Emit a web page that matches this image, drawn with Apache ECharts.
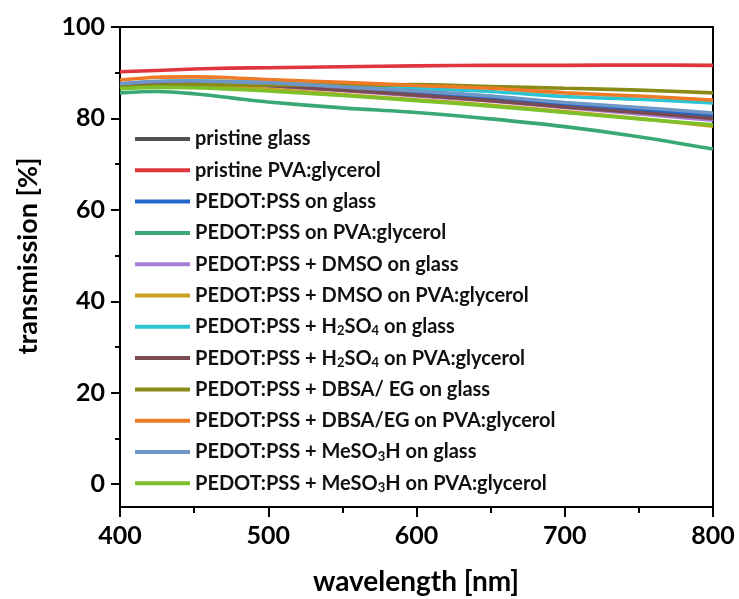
<!DOCTYPE html>
<html>
<head>
<meta charset="utf-8">
<script src="https://cdn.jsdelivr.net/npm/echarts@6/dist/echarts.min.js"></script>
<style>html,body{margin:0;padding:0;background:#fff;}#chart{width:739px;height:599px;}</style>
</head>
<body>
<div id="chart"></div>
<script>
// wavelength sampling points [nm]
var wavelengths = [400, 425, 450, 475, 500, 550, 600, 650, 700, 750, 800];

var seriesNames = [
  'pristine glass',
  'pristine PVA:glycerol',
  'PEDOT:PSS on glass',
  'PEDOT:PSS on PVA:glycerol',
  'PEDOT:PSS + DMSO on glass',
  'PEDOT:PSS + DMSO on PVA:glycerol',
  'PEDOT:PSS + H2SO4 on glass',
  'PEDOT:PSS + H2SO4 on PVA:glycerol',
  'PEDOT:PSS + DBSA/ EG on glass',
  'PEDOT:PSS + DBSA/EG on PVA:glycerol',
  'PEDOT:PSS + MeSO3H on glass',
  'PEDOT:PSS + MeSO3H on PVA:glycerol'
];

// transmission [%]
var pristineGlass      = [87.4, 88.0, 88.1, 87.9, 87.6, 86.8, 85.9, 84.8, 83.3, 82.1, 80.9];
var pristinePVA        = [90.2, 90.5, 90.8, 91.0, 91.1, 91.3, 91.5, 91.6, 91.6, 91.7, 91.6];
var pedotGlass         = [87.2, 87.8, 88.0, 87.8, 87.5, 86.6, 85.6, 84.5, 83.0, 81.8, 80.4];
var pedotPVA           = [85.6, 85.9, 85.4, 84.5, 83.6, 82.3, 81.3, 79.9, 78.2, 76.0, 73.3];
var dmsoGlass          = [86.9, 87.5, 87.6, 87.4, 87.1, 86.1, 84.9, 83.8, 82.4, 81.0, 79.6];
var dmsoPVA            = [86.6, 87.1, 87.1, 86.8, 86.4, 85.2, 84.1, 82.9, 81.5, 80.0, 78.3];
var h2so4Glass         = [87.5, 88.0, 88.2, 88.1, 87.9, 87.3, 86.6, 85.9, 84.8, 84.2, 83.4];
var h2so4PVA           = [87.0, 87.6, 87.7, 87.5, 87.2, 86.2, 85.1, 83.9, 82.5, 81.3, 80.0];
var dbsaGlass          = [86.8, 87.2, 87.4, 87.4, 87.3, 87.3, 87.4, 87.0, 86.6, 86.2, 85.6];
var dbsaPVA            = [88.4, 89.0, 89.1, 88.9, 88.5, 87.9, 87.2, 86.6, 85.6, 84.9, 84.0];
var mesGlass           = [87.6, 88.1, 88.2, 88.0, 87.8, 86.9, 86.0, 84.9, 83.5, 82.4, 81.2];
var mesPVA             = [86.5, 86.8, 86.7, 86.4, 86.0, 85.0, 83.9, 82.7, 81.3, 79.9, 78.6];

var allValues = [pristineGlass, pristinePVA, pedotGlass, pedotPVA, dmsoGlass, dmsoPVA,
                 h2so4Glass, h2so4PVA, dbsaGlass, dbsaPVA, mesGlass, mesPVA];

var colors = ['#505050', '#e0353f', '#2268c8', '#3aa874', '#a77fd4', '#c8a020',
              '#2cc4d2', '#7a4a52', '#8a8a16', '#ee7a28', '#6e96c6', '#7cc02a'];

var xTicks = [400, 500, 600, 700, 800];
var yTicks = [0, 20, 40, 60, 80, 100];
var yMinorTicks = [10, 30, 50, 70, 90];

var series = seriesNames.map(function (name, i) {
  return {
    name: name,
    type: 'line',
    showSymbol: false,
    smooth: 0.3,
    lineStyle: { width: 3.6, color: colors[i] },
    itemStyle: { color: colors[i] },
    data: wavelengths.map(function (w, j) { return [w, allValues[i][j]]; })
  };
});

function legendFmt(name) {
  var m = name.match(/^(.*?)(H2SO4|MeSO3H)(.*)$/);
  if (!m) return '{a|' + name + '}';
  if (m[2] === 'H2SO4') {
    return '{a|' + m[1] + 'H}{s|2}{a|SO}{s|4}{a|' + m[3] + '}';
  }
  return '{a|' + m[1] + 'MeSO}{s|3}{a|H' + m[3] + '}';
}

var fontFam = 'Lato, "Open Sans", sans-serif';
var chart = echarts.init(document.getElementById('chart'), null, { renderer: 'canvas' });
chart.setOption({
  animation: false,
  backgroundColor: '#fff',
  grid: { left: 120, right: 26, top: 27, bottom: 92, show: true, borderColor: '#000', borderWidth: 2, backgroundColor: 'transparent' },
  legend: {
    orient: 'vertical',
    left: 130,
    top: 123,
    itemWidth: 55,
    itemHeight: 4,
    itemGap: 9.3,
    icon: 'rect',
    data: seriesNames,
    formatter: legendFmt,
    textStyle: {
      fontFamily: fontFam, fontWeight: 'bold', fontSize: 20, color: '#111', lineHeight: 22,
      rich: {
        a: { fontFamily: fontFam, fontWeight: 'bold', fontSize: 20, color: '#111', lineHeight: 22 },
        s: { fontFamily: fontFam, fontWeight: 'bold', fontSize: 13, color: '#111', lineHeight: 8, verticalAlign: 'bottom' }
      }
    }
  },
  xAxis: {
    type: 'value', min: 400, max: 800, interval: 100,
    axisLine: { onZero: false, lineStyle: { color: '#000', width: 2 } },
    axisTick: { inside: false, length: 10, lineStyle: { color: '#000', width: 2 } },
    minorTick: { show: true, splitNumber: 2, length: 6, lineStyle: { color: '#000', width: 2 } },
    splitLine: { show: false },
    axisLabel: { margin: 16, fontFamily: fontFam, fontWeight: 'bold', fontSize: 25, color: '#000', customValues: xTicks }
  },
  yAxis: [{
    type: 'value', min: -5, max: 100,
    axisLine: { onZero: false, lineStyle: { color: '#000', width: 2 } },
    axisTick: { inside: false, length: 9, lineStyle: { color: '#000', width: 2 }, customValues: yTicks },
    splitLine: { show: false },
    axisLabel: { margin: 15, fontFamily: fontFam, fontWeight: 'bold', fontSize: 25, color: '#000', customValues: yTicks }
  }, {
    type: 'value', min: -5, max: 100, position: 'left', offset: 0,
    axisLine: { show: false },
    axisTick: { inside: false, length: 5, lineStyle: { color: '#000', width: 2 }, customValues: yMinorTicks },
    splitLine: { show: false },
    axisLabel: { show: false, customValues: yMinorTicks }
  }],
  graphic: [{
    type: 'text', x: 28, y: 256, rotation: Math.PI / 2,
    style: { text: 'transmission [%]', fontFamily: fontFam, fontWeight: 'bold', fontSize: 27, fill: '#000', align: 'center', verticalAlign: 'middle' }
  }, {
    type: 'text', x: 416, y: 582,
    style: { text: 'wavelength [nm]', fontFamily: fontFam, fontWeight: 'bold', fontSize: 28, fill: '#000', align: 'center', verticalAlign: 'middle' }
  }],
  series: series
});
</script>
</body>
</html>
